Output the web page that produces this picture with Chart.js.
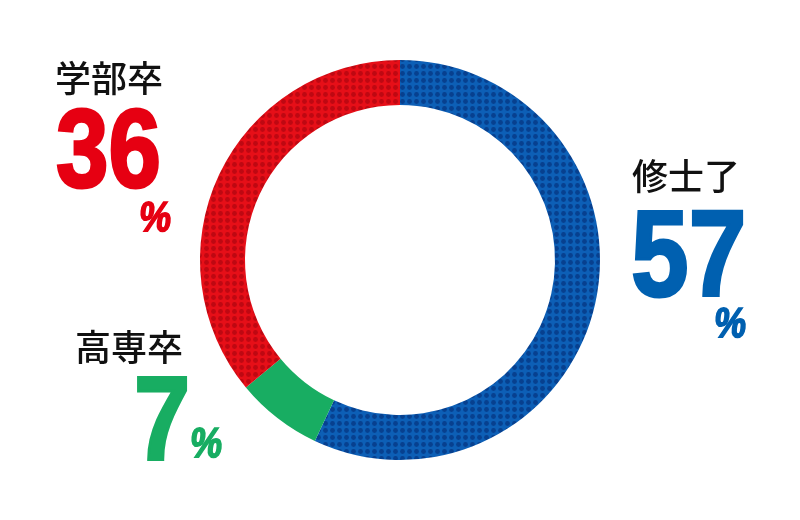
<!DOCTYPE html>
<html>
<head>
<meta charset="utf-8">
<script src="https://cdn.jsdelivr.net/npm/chart.js@4.4.1/dist/chart.umd.min.js"></script>
<style>
  html, body { margin: 0; padding: 0; background: #fff; }
  #wrap { width: 800px; height: 520px; position: relative; }
</style>
</head>
<body>
<div id="wrap"><canvas id="chart1" width="800" height="520"></canvas></div>
<script>
// data
const categories = ["修士了", "高専卒", "学部卒"];
const shares = [57, 7, 36];
const valueLabels = ["57", "7", "36"];
const unitLabel = "%";

// colours: [base, dot] (green has no dots)
const baseColors = ["#0d5fb6", "#18ad62", "#e60f18"];
const dotColors = ["#07408f", null, "#be0812"];
const textColors = ["#0060b0", "#18ad62", "#e60012"];

// where the labels sit (x, y of category text, value baseline, % baseline)
const labelPos = [
  { cx: 632, cy: 176, vx: 631, vy: 296, px: 713, py: 337, vsize: 122 },
  { cx: 75, cy: 347, vx: 134, vy: 459, px: 189, py: 457, vsize: 119 },
  { cx: 55, cy: 78, vx: 56, vy: 187, px: 138, py: 231, vsize: 111 }
];

function makePattern(base, dot) {
  if (!dot) return base;
  const c = document.createElement("canvas");
  c.width = 7; c.height = 7;
  const g = c.getContext("2d");
  g.fillStyle = base;
  g.fillRect(0, 0, 7, 7);
  g.fillStyle = dot;
  g.beginPath();
  g.arc(3.5, 3.5, 2.4, 0, Math.PI * 2);
  g.fill();
  return g.createPattern(c, "repeat");
}

const bgFills = baseColors.map(function(b, i){ return makePattern(b, dotColors[i]); });

const labelPlugin = {
  id: "bigLabels",
  afterDraw: function(chart) {
    const ctx = chart.ctx;
    ctx.save();
    categories.forEach(function(name, i) {
      const p = labelPos[i];
      // category name
      ctx.fillStyle = "#111";
      ctx.font = "500 36px 'Noto Sans CJK JP'";
      ctx.textBaseline = "middle";
      ctx.textAlign = "left";
      ctx.fillText(name, p.cx, p.cy);
      // big number, a bit condensed and heavy
      ctx.fillStyle = textColors[i];
      ctx.strokeStyle = textColors[i];
      ctx.lineJoin = "miter";
      ctx.miterLimit = 3;
      ctx.textBaseline = "alphabetic";
      ctx.save();
      ctx.translate(p.vx, p.vy);
      ctx.scale(0.85, 1);
      ctx.font = "bold " + p.vsize + "px 'Liberation Sans'";
      ctx.lineWidth = 3;
      ctx.fillText(valueLabels[i], 0, 0);
      ctx.strokeText(valueLabels[i], 0, 0);
      ctx.restore();
      // percent sign, slanted
      ctx.save();
      ctx.translate(p.px, p.py);
      ctx.transform(0.85, 0, -0.12, 1, 0, 0);
      ctx.font = "bold 42px 'Liberation Sans'";
      ctx.lineWidth = 1.8;
      ctx.fillText(unitLabel, 0, 0);
      ctx.strokeText(unitLabel, 0, 0);
      ctx.restore();
    });
    ctx.restore();
  }
};

new Chart(document.getElementById("chart1"), {
  type: "doughnut",
  data: {
    labels: categories,
    datasets: [{
      data: shares,
      backgroundColor: bgFills,
      borderWidth: 0,
      hoverOffset: 0
    }]
  },
  options: {
    responsive: false,
    maintainAspectRatio: false,
    animation: false,
    cutout: "77.5%",
    rotation: 0,
    layout: { padding: { top: 60, bottom: 60, left: 0, right: 0 } },
    plugins: {
      legend: { display: false },
      tooltip: { enabled: false }
    }
  },
  plugins: [labelPlugin]
});
</script>
</body>
</html>
